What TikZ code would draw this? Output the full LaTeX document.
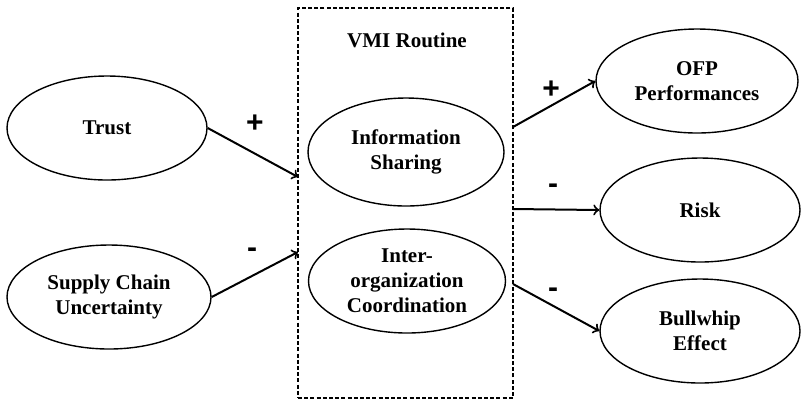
\documentclass[tikz,border=0pt]{standalone}
\usepackage{fontspec}
\setmainfont{Liberation Serif}
\newfontfamily\signfont{Liberation Sans}
\usetikzlibrary{shapes.geometric, arrows, positioning}

\begin{document}
\begin{tikzpicture}[
    x=0.5pt, y=-0.5pt,
    construct/.style = {ellipse, draw=black, line width=0.7pt, inner sep=0pt,
                        minimum width=100pt, minimum height=52pt,
                        align=center, font=\fontsize{10.5}{12.5}\selectfont\bfseries},
    routine/.style = {rectangle, draw=black, line width=1pt, dash pattern=on 2pt off 1.1pt,
                      minimum width=107.5pt, minimum height=195pt, inner sep=0pt},
    sign/.style = {font=\signfont\fontsize{15}{15}\selectfont\bfseries, inner sep=0pt},
    arrow/.style = {line width=1pt, ->, >=to}
]
    \useasboundingbox (0,0) rectangle (802,409);

    % VMI routine box
    \node[routine] (vmi) at (405.5,203) {};
    \node[font=\fontsize{10.5}{12.5}\selectfont\bfseries] (title) at (407,40) {VMI Routine};

    % Antecedents
    \node[construct] (trust) at (107,128) {Trust};
    \node[construct, minimum width=102pt] (scu) at (109,297) {Supply Chain\\Uncertainty};

    % Inside the routine
    \node[construct, minimum width=98pt, minimum height=54pt] (info) at (406,152) {Information\\Sharing};
    \node[construct, minimum width=98.5pt] (coord) at (407,281) {Inter-\\organization\\Coordination};

    % Outcomes
    \node[construct, minimum width=101pt] (ofp) at (697,81) {OFP\\Performances};
    \node[construct] (risk) at (700,210) {Risk};
    \node[construct] (bullwhip) at (700,331) {Bullwhip\\Effect};

    % Points on the box edge
    \coordinate (trustin) at (298,177);
    \coordinate (scuin) at (298,252);
    \coordinate (ofpout) at (513,127);
    \coordinate (riskout) at (513,209);
    \coordinate (bullout) at (513,284);

    % Arrows
    \draw[arrow] (trust.east) -- (trustin);
    \draw[arrow] (scu.east) -- (scuin);
    \draw[arrow] (ofpout) -- (ofp.west);
    \draw[arrow] (riskout) -- (risk.west);
    \draw[arrow] (bullout) -- (bullwhip.west);

    % Signs
    \node[sign] (s1) at (255,124) {+};
    \node[sign] (s2) at (252,253) {-};
    \node[sign] (s3) at (551,90) {+};
    \node[sign] (s4) at (553,189) {-};
    \node[sign] (s5) at (553,293) {-};

\end{tikzpicture}
\end{document}
